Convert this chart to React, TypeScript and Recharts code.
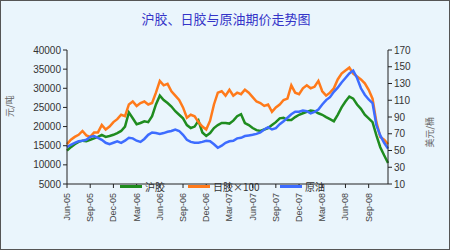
import { LineChart, Line, XAxis, YAxis, Legend, Label } from "recharts";

const months = [
  "Jun-05", "Jul-05", "Aug-05", "Sep-05", "Oct-05", "Nov-05", "Dec-05",
  "Jan-06", "Feb-06", "Mar-06", "Apr-06", "May-06", "Jun-06", "Jul-06",
  "Aug-06", "Sep-06", "Oct-06", "Nov-06", "Dec-06",
  "Jan-07", "Feb-07", "Mar-07", "Apr-07", "May-07", "Jun-07", "Jul-07",
  "Aug-07", "Sep-07", "Oct-07", "Nov-07", "Dec-07",
  "Jan-08", "Feb-08", "Mar-08", "Apr-08", "May-08", "Jun-08", "Jul-08",
  "Aug-08", "Sep-08", "Oct-08", "Nov-08",
];

// two readings per month: first half / second half
const periods = months.flatMap((m) => [m, m + " b"]);

// 沪胶 (元/吨)
const shRubber = [
  13700, 14620, 15390, 16010, 16320, 16160, 16550, 16930, 17310, 17850,
  17310, 17550, 17850, 18310, 18850, 20000, 23700, 22160, 20620, 20930,
  21390, 21160, 22700, 25770, 28080, 26930, 26160, 25240, 24000, 23080,
  22160, 20390, 19620, 20000, 21540, 18470, 17550, 18310, 19620, 20390,
  20930, 20930, 20780, 21540, 22700, 23240, 20930, 20390, 19620, 19080,
  18850, 19240, 19620, 20390, 21160, 22160, 22310, 21700, 21700, 22470,
  23080, 23470, 23850, 24160, 24000, 23470, 23080, 22470, 21930, 21390,
  23080, 25000, 26540, 27850, 27310, 25770, 24620, 23080, 22160, 21160,
  17700, 14620, 12500, 10500,
];

// 日胶×100
const jpRubber = [
  15400, 16550, 17300, 17850, 18850, 17700, 17300, 18470, 18470, 20400,
  19240, 20000, 21160, 21930, 23080, 22700, 25770, 26540, 25390, 26160,
  26540, 25770, 26160, 28850, 31930, 30770, 31160, 29230, 28080, 26930,
  25000, 22310, 23080, 22700, 21160, 20000, 19240, 21540, 25770, 28850,
  29230, 28080, 29620, 28080, 28850, 28460, 29620, 28850, 27700, 26540,
  26160, 25390, 25770, 23850, 25000, 25770, 26930, 27310, 30770, 28850,
  28460, 30000, 30770, 30000, 30390, 31930, 29230, 28080, 28850, 30000,
  32310, 33850, 34620, 35390, 33850, 33080, 32310, 31300, 29600, 27300,
  21160, 17300, 16550, 15400,
];

// 原油 (美元/桶)
const crude = [
  54.0, 56.8, 59.2, 61.0, 61.7, 62.8, 66.3, 67.3, 65.2, 62.8,
  59.2, 57.5, 59.2, 61.0, 59.2, 61.7, 65.2, 64.5, 61.7, 60.3,
  63.8, 68.7, 71.5, 70.8, 69.8, 70.8, 72.3, 73.3, 75.1, 73.3,
  68.7, 62.8, 60.3, 59.2, 59.2, 60.3, 61.7, 61.0, 57.5, 53.3,
  55.7, 59.2, 61.0, 61.7, 64.5, 65.2, 67.3, 68.0, 68.7, 69.8,
  71.5, 75.1, 77.9, 75.1, 76.8, 81.4, 84.9, 89.1, 93.3, 96.2,
  96.2, 97.6, 96.9, 94.4, 96.2, 99.0, 105.0, 110.2, 113.7, 120.1,
  125.0, 131.3, 136.6, 141.9, 145.4, 136.6, 124.3, 116.6, 110.9, 106.7,
  80.3, 68.0, 59.2, 52.2,
];

const leftTicks = [5000, 10000, 15000, 20000, 25000, 30000, 35000, 40000];
const rightTicks = [10, 30, 50, 70, 90, 110, 130, 150, 170];

const data = periods.map((p, i) => ({
  period: p,
  sh: shRubber[i],
  jp: jpRubber[i],
  oil: crude[i],
}));

const series = [
  { key: "sh", name: "沪胶", color: "#1f8c1f", axis: "left" },
  { key: "jp", name: "日胶×100", color: "#ff7a1a", axis: "left" },
  { key: "oil", name: "原油", color: "#3d6cff", axis: "right" },
];

const cjk = '"Noto Sans CJK SC", "Noto Sans", sans-serif';
const num = '"Liberation Sans", Arial, sans-serif';

function DateTick(props: any) {
  const { x, y, payload } = props;
  return (
    <text
      transform={`translate(${x + 3},${y + 3}) rotate(-90)`}
      textAnchor="end"
      fontSize={9}
      fontFamily={num}
      fill="#444"
    >
      {payload.value.slice(0, 6)}
    </text>
  );
}

// legend item left edges in the reference: 120, 188, 280
const legendLeft = [0, 68, 160];

function LegendBox() {
  return (
    <div style={{ position: "relative", height: 16, fontFamily: cjk, fontSize: 10, color: "#333" }}>
      {series.map((s, i) => (
        <div
          key={s.key}
          style={{ position: "absolute", left: legendLeft[i], top: 0, display: "flex", alignItems: "center", whiteSpace: "nowrap" }}
        >
          <span style={{ display: "inline-block", width: 22, height: 3, background: s.color, marginRight: 3 }} />
          <span>{s.name}</span>
        </div>
      ))}
    </div>
  );
}

export default function App() {
  return (
    <div
      style={{
        position: "absolute",
        left: 0,
        top: 0,
        width: 450,
        height: 250,
        boxSizing: "border-box",
        border: "1px solid #555",
        background: "#eaf5fc",
      }}
    >
      <div
        style={{
          position: "absolute",
          top: 8,
          left: 0,
          width: 450,
          textAlign: "center",
          fontFamily: cjk,
          fontSize: 13,
          color: "#3434c8",
        }}
      >
        沪胶、日胶与原油期价走势图
      </div>
      <div style={{ position: "absolute", left: -1, top: -1 }}>
        <LineChart
          width={450}
          height={250}
          data={data}
          margin={{ top: 50, right: 6, bottom: 5, left: 4 }}
        >
          <XAxis
            dataKey="period"
            interval={5}
            height={45}
            tick={<DateTick />}
            tickSize={4}
            stroke="#222"
          />
          <YAxis
            yAxisId="left"
            domain={[5000, 40000]}
            ticks={leftTicks}
            width={63}
            tickSize={4}
            stroke="#222"
            tick={{ fontSize: 10, fontFamily: num, fill: "#333" }}
          >
            <Label
              value="元/吨"
              angle={-90}
              position="insideLeft"
              offset={6}
              style={{ fontFamily: cjk, fontSize: 9, fill: "#666" }}
            />
          </YAxis>
          <YAxis
            yAxisId="right"
            orientation="right"
            domain={[10, 170]}
            ticks={rightTicks}
            width={56}
            tickSize={4}
            stroke="#222"
            tick={{ fontSize: 10, fontFamily: num, fill: "#333" }}
          >
            <Label
              value="美元/桶"
              angle={-90}
              position="insideRight"
              offset={14}
              style={{ fontFamily: cjk, fontSize: 9, fill: "#666" }}
            />
          </YAxis>
          <Legend
            content={<LegendBox />}
            wrapperStyle={{ position: "absolute", left: 120, top: 179, width: 240 }}
          />
          {series.map((s) => (
            <Line
              key={s.key}
              yAxisId={s.axis}
              dataKey={s.key}
              name={s.name}
              stroke={s.color}
              strokeWidth={2.5}
              dot={false}
              isAnimationActive={false}
            />
          ))}
        </LineChart>
      </div>
    </div>
  );
}
